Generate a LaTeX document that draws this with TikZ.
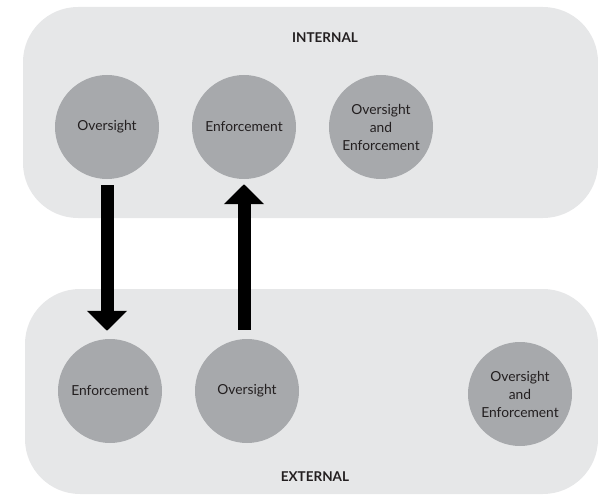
\documentclass[tikz,border=0pt]{standalone}
\usepackage{fontspec}
\setmainfont{Lato}
\usetikzlibrary{arrows.meta,positioning}

\definecolor{boxgray}{HTML}{E6E7E8}
\definecolor{circgray}{HTML}{A7A9AC}
\definecolor{inkgray}{HTML}{231F20}

\tikzset{
  area/.style={fill=boxgray,draw=none,rounded corners=55pt},
  role/.style={circle,fill=circgray,draw=none,minimum size=104pt,inner sep=0pt,
    align=center,font=\fontsize{13.8}{18}\selectfont,text=inkgray},
  heading/.style={font=\bfseries\fontsize{13.5}{15}\selectfont,text=inkgray},
  flow/.style={line width=13pt,-{Triangle[width=39pt,length=20pt]}}
}

\begin{document}
\begin{tikzpicture}[x=1pt,y=-1pt]
  \useasboundingbox (0,0) rectangle (598,495);
  % the two areas
  \fill[area] (23,7) rectangle (598,218);
  \fill[area] (25,289) rectangle (598,494);
  \node[heading] (internal) at (325,38)  {INTERNAL};
  \node[heading] (external) at (315,477) {EXTERNAL};
  % internal roles
  \node[role] (ovI) at (107,127) {Oversight};
  \node[role] (enI) at (244,127) {Enforcement};
  \node[role] (oeI) at (381,127) {Oversight\\and\\Enforcement};
  % external roles
  \node[role] (enE) at (110,391) {Enforcement};
  \node[role] (ovE) at (247,391) {Oversight};
  \node[role] (oeE) at (520,394) {Oversight\\and\\Enforcement};
  % flows between them
  \draw[flow,shorten <=6pt,shorten >=8pt] (ovI.south) -- (ovI.south |- enE.north);
  \draw[flow,shorten <=9pt,shorten >=5pt] (enI.south |- ovE.north) -- (enI.south);
\end{tikzpicture}
\end{document}
